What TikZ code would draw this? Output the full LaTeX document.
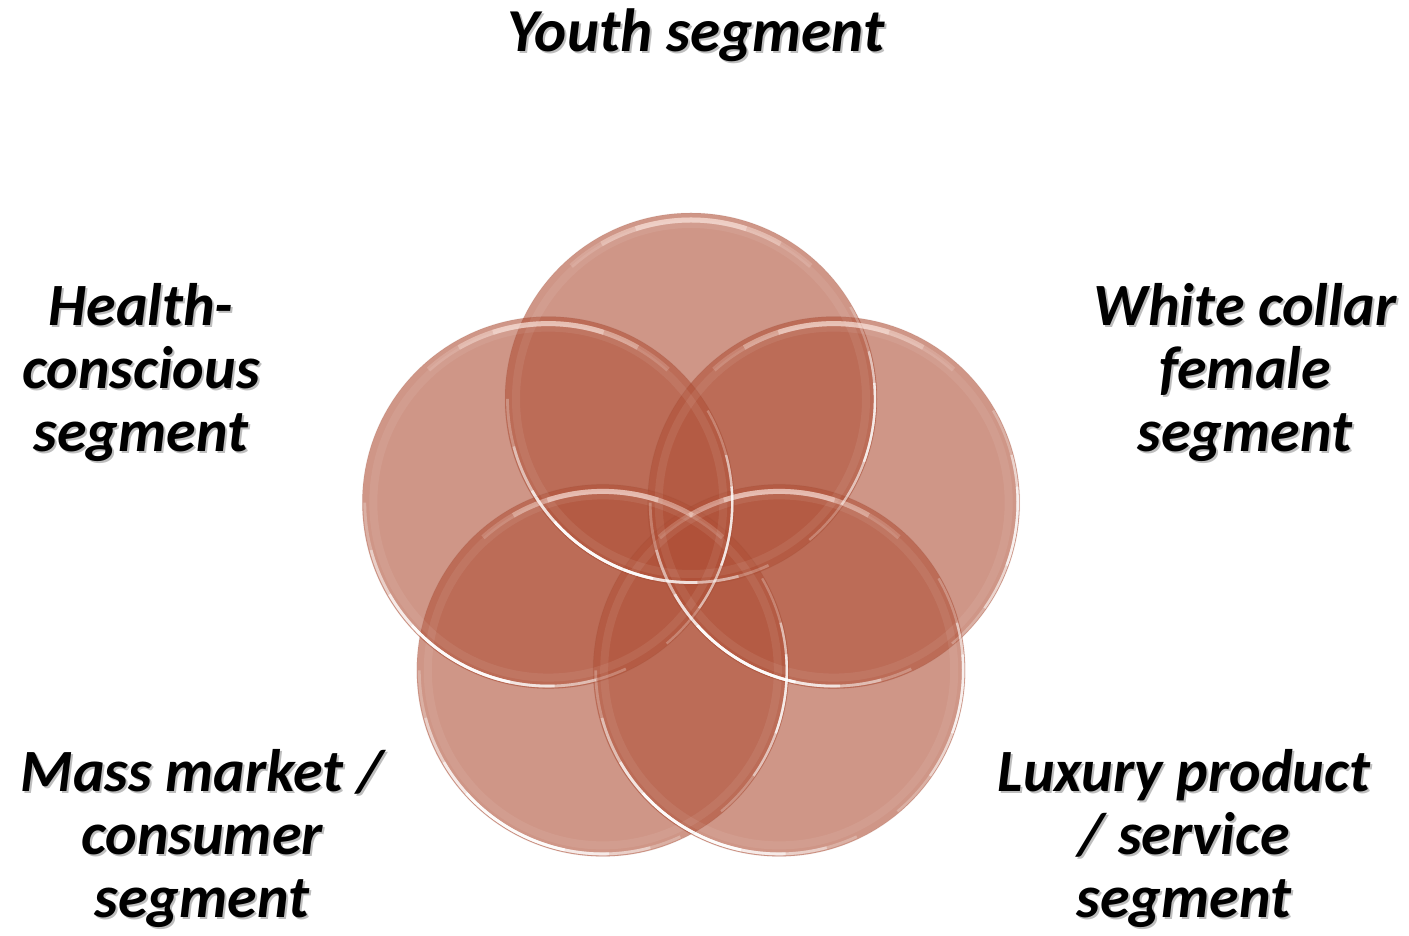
\documentclass[tikz,border=0pt]{standalone}
\usepackage{fontspec}
\setmainfont{Carlito}
\definecolor{petal}{RGB}{175,80,55}
\definecolor{textshade}{RGB}{110,110,110}
\definecolor{sheen}{RGB}{255,235,228}

% glossy rim on one petal: soft top sheen, bright lower-left and right rims
\newcommand\petalgloss[1]{%
  \foreach \a/\b/\o in {48/132/0.18, 60/120/0.3, 72/108/0.4}
    \draw[sheen, line width=5, draw opacity=\o]
      ([shift={(\a:179)}]#1.center) arc[start angle=\a, end angle=\b, radius=179];
  \foreach \a/\b/\o in {180/295/0.25, 195/285/0.4, 210/272/0.6, 222/258/0.85}
    \draw[white, line width=2.8, draw opacity=\o]
      ([shift={(\a:183.5)}]#1.center) arc[start angle=\a, end angle=\b, radius=183.5];
  \foreach \a/\b/\o in {-50/30/0.25, -35/15/0.45, -20/5/0.65}
    \draw[white, line width=2.4, draw opacity=\o]
      ([shift={(\a:184)}]#1.center) arc[start angle=\a, end angle=\b, radius=184];
  \draw[white, draw opacity=0.07, line width=8] (#1.center) circle (175);
  \draw[petal!70!black, draw opacity=0.07, line width=1] (#1.center) circle (186);
}

\begin{document}
\begin{tikzpicture}[x=1pt, y=1pt,
  petalbox/.style={circle, minimum size=372pt, inner sep=0pt, outer sep=0pt,
    fill=petal, fill opacity=0.6},
  seglabel/.style={font=\fontsize{60}{63}\selectfont\bfseries\itshape,
    align=center, anchor=base, inner sep=0pt, text=black},
  segshade/.style={seglabel, text=textshade, text opacity=0.45},
  youthfont/.style={font=\fontsize{61}{63}\selectfont\bfseries\itshape},
]
\useasboundingbox (0,0) rectangle (1409,936);

% five overlapping petals on a pentagon
\node[petalbox] (ptop)   at (691,537)     {};
\node[petalbox] (pright) at (833.7,433.4) {};
\node[petalbox] (pbr)    at (779.2,265.6) {};
\node[petalbox] (pbl)    at (602.8,265.6) {};
\node[petalbox] (pleft)  at (548.3,433.4) {};

\petalgloss{ptop}
\petalgloss{pright}
\petalgloss{pbr}
\petalgloss{pbl}
\petalgloss{pleft}

% segment labels with a light drop shadow (base = last line)
\node[segshade, youthfont] (youthsh) at (698,882) {Youth segment};
\node[seglabel, youthfont] (youth)   at (696,884) {Youth segment};

\node[segshade] (healthsh) at (143,482) {Health-\\conscious\\segment};
\node[seglabel] (health)   at (141,484) {Health-\\conscious\\segment};

\node[segshade] (whitesh)  at (1247,482) {White collar\\female\\segment};
\node[seglabel] (white)    at (1245,484) {White collar\\female\\segment};

\node[segshade] (masssh)   at (204,16) {Mass market /\\consumer\\segment};
\node[seglabel] (mass)     at (202,18) {Mass market /\\consumer\\segment};

\node[segshade] (luxsh)    at (1186,16) {Luxury product\\/ service\\segment};
\node[seglabel] (lux)      at (1184,18) {Luxury product\\/ service\\segment};
\end{tikzpicture}
\end{document}
